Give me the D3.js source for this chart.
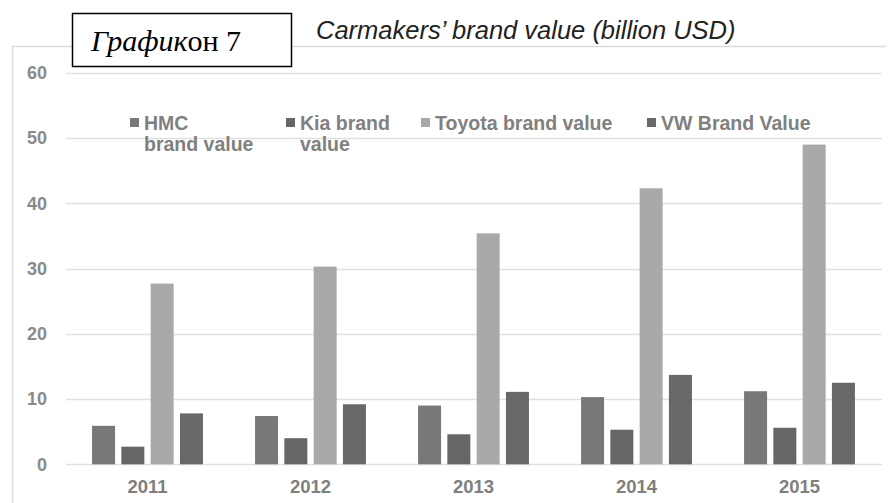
<!DOCTYPE html>
<meta charset="utf-8">
<style>
body { margin: 0; background: #fff; }
svg { display: block; }
.tick text { font-family: "Liberation Sans", Arial, sans-serif; font-weight: bold; }
</style>
<svg width="894" height="503"></svg>
<script src="https://d3js.org/d3.v7.min.js"></script>
<script>

var years = ["2011", "2012", "2013", "2014", "2015"];
var series = ["HMC brand value", "Kia brand value", "Toyota brand value", "VW Brand Value"];
var hmc    = [5.9, 7.4, 9.0, 10.3, 11.2];
var kia    = [2.7, 4.0, 4.6, 5.3, 5.6];
var toyota = [27.7, 30.3, 35.4, 42.3, 49.0];
var vw     = [7.8, 9.2, 11.1, 13.7, 12.5];
var yTicks = [0, 10, 20, 30, 40, 50, 60];
var colors = ["#787878", "#666666", "#a9a9a9", "#686868"];

var values = [hmc, kia, toyota, vw];
var rows = years.map(function(y, i) {
  return { year: y, vals: series.map(function(s, j) { return { key: s, value: values[j][i], idx: j }; }) };
});

var svg = d3.select("svg");

// outer chart frame (left + top edges visible in the scan)
svg.append("path")
    .attr("d", "M12.5,503 V46.5 H886")
    .attr("fill", "none")
    .attr("stroke", "#dcdcdc")
    .attr("stroke-width", 1.5);

var x = d3.scaleBand().domain(years).range([66, 881]);
var x1 = d3.scaleBand().domain(series).range([0, x.bandwidth()])
    .paddingInner(0.215).paddingOuter(0.89);
var y = d3.scaleLinear().domain([0, 60]).range([464.3, 72.8]);

// gridlines
svg.append("g")
  .selectAll("line")
  .data(yTicks)
  .join("line")
    .attr("x1", 66).attr("x2", 882)
    .attr("y1", function(d) { return Math.round(y(d)) + 0.5; })
    .attr("y2", function(d) { return Math.round(y(d)) + 0.5; })
    .attr("stroke", "#e0e0e0")
    .attr("stroke-width", 1.5);

var yAxis = svg.append("g")
    .attr("transform", "translate(66,0)")
    .call(d3.axisLeft(y).tickValues(yTicks).tickSize(0).tickPadding(19));
yAxis.select(".domain").remove();
yAxis.selectAll("text").attr("fill", "#8a8a8a").style("font-size", "18px");

var xAxis = svg.append("g")
    .attr("transform", "translate(0,464)")
    .call(d3.axisBottom(x).tickSize(0).tickPadding(16));
xAxis.select(".domain").remove();
xAxis.selectAll("text").attr("fill", "#7f7f7f").style("font-size", "18.5px");

// bars
svg.append("g")
  .selectAll("g")
  .data(rows)
  .join("g")
    .attr("transform", function(d) { return "translate(" + x(d.year) + ",0)"; })
  .selectAll("rect")
  .data(function(d) { return d.vals; })
  .join("rect")
    .attr("x", function(d) { return x1(d.key); })
    .attr("y", function(d) { return y(d.value); })
    .attr("width", x1.bandwidth())
    .attr("height", function(d) { return y(0) - y(d.value); })
    .attr("fill", function(d) { return colors[d.idx]; });

// legend
var legendPos = [[130, ["HMC", "brand value"]], [286, ["Kia brand", "value"]],
                 [421, ["Toyota brand value"]], [647, ["VW Brand Value"]]];
var lg = svg.append("g")
  .selectAll("g")
  .data(series)
  .join("g")
    .attr("transform", function(d, i) { return "translate(" + legendPos[i][0] + ",123)"; });
lg.append("rect")
    .attr("x", 0).attr("y", -5)
    .attr("width", 9).attr("height", 9)
    .attr("fill", function(d, i) { return colors[i]; });
lg.append("text")
    .attr("fill", "#808080")
    .style("font", "bold 19.5px 'Liberation Sans', Arial, sans-serif")
  .selectAll("tspan")
  .data(function(d, i) { return legendPos[i][1]; })
  .join("tspan")
    .attr("x", 14)
    .attr("y", function(d, i) { return 7 + i * 21; })
    .text(function(d) { return d; });

// title
svg.append("text")
    .attr("x", 316).attr("y", 39)
    .attr("fill", "#222")
    .style("font", "italic 25.5px 'Liberation Sans', Arial, sans-serif")
    .text("Carmakers\u2019 brand value (billion USD)");

// label box
svg.append("rect")
    .attr("x", 72.5).attr("y", 13.5)
    .attr("width", 219).attr("height", 53)
    .attr("fill", "#fff")
    .attr("stroke", "#000")
    .attr("stroke-width", 1.5);
var lab = svg.append("text")
    .attr("x", 91).attr("y", 51)
    .attr("fill", "#000")
    .style("font-family", "'Liberation Serif', 'Times New Roman', serif")
    .style("font-size", "30px");
lab.append("tspan").style("font-style", "italic").text("График");
lab.append("tspan").text("он 7");

</script>
